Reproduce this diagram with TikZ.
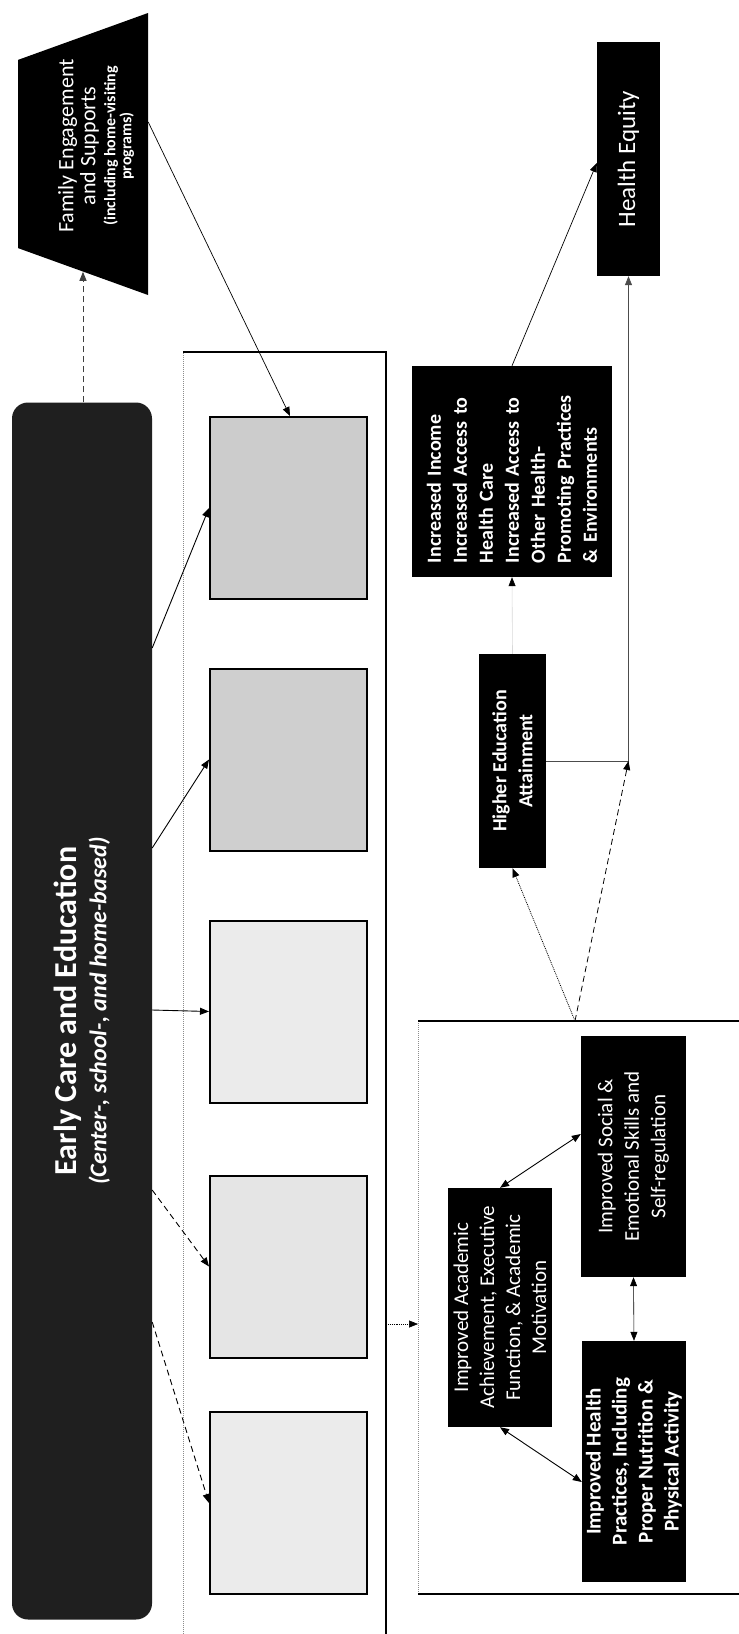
\documentclass[tikz,border=0pt]{standalone}
\usepackage{fontspec}
\setmainfont{Carlito}
\usepackage{tikz}
\usetikzlibrary{arrows.meta, shapes.geometric}

\begin{document}
\begin{tikzpicture}[
    x=1pt, y=-1pt,
    darkbox/.style={fill=black, text=white, rotate=90, inner sep=0pt, align=center},
    greybox/.style={draw, line width=2pt, minimum width=157pt, minimum height=182pt},
    frameline/.style={line width=1.2pt},
    framedots/.style={black!45, densely dotted, line width=1pt},
    arrow/.style={-{Triangle[length=9pt, width=7pt]}, line width=0.9pt},
    dasharrow/.style={arrow, dash pattern=on 6pt off 4pt},
    twoway/.style={{Triangle[length=9pt, width=7pt]}-{Triangle[length=9pt, width=7pt]}, line width=0.9pt}
]
\fill[white] (0,0) rectangle (739,1634);
\useasboundingbox (0,0) rectangle (739,1634);

% frames
\draw[framedots] (183,1634) -- (183,352);
\draw[frameline] (183,352) -- (386,352) -- (386,1634);
\draw[framedots] (418,1021) -- (418,1594);
\draw[frameline] (418,1021) -- (739,1021);
\draw[frameline] (418,1594) -- (739,1594);
\coordinate (upframe) at (386,1324);
\coordinate (lowframe) at (418,1324);
\coordinate (apex) at (575,1021);

% left column
\node[darkbox, fill=black!88, rounded corners=16pt, minimum width=1217pt, minimum height=140pt,
      font=\fontsize{32}{30}\selectfont\bfseries] (ece) at (82,1011)
      {Early Care and Education\\{\fontsize{24}{28}\selectfont\itshape (Center-, school-, and home-based)}};
\node[trapezium, trapezium angle=76, trapezium stretches=true, rotate=90, fill=black, inner sep=2pt,
      minimum width=282pt, minimum height=130pt] (family) at (83,154) {};
\node[rotate=90, text=white, align=center, inner sep=0pt, font=\fontsize{22}{22}\selectfont] (famtxt) at (96,146)
      {Family Engagement\\and Supports\\[-2pt]{\fontsize{16}{16}\selectfont\bfseries (including home-visiting}\\[-6pt]{\fontsize{16}{16}\selectfont\bfseries programs)}};

% middle column
\node[greybox, fill=black!20] (box1) at (288.5,508) {};
\node[greybox, fill=black!19] (box2) at (288.5,759.5) {};
\node[greybox, fill=black!8] (box3) at (288.5,1011.5) {};
\node[greybox, fill=black!10] (box4) at (288.5,1266.5) {};
\node[greybox, fill=black!8] (box5) at (288.5,1503) {};

% right column
\node[darkbox, minimum width=234pt, minimum height=63pt, font=\fontsize{25}{30}\selectfont] (he) at (628.5,159) {Health Equity};
\node[darkbox, align=left, text width=183pt, minimum width=211pt, minimum height=200pt,
      font=\fontsize{20}{26}\selectfont\bfseries] (inc) at (512,471.5)
      {Increased Income\\Increased Access to\\Health Care\\Increased Access to\\Other Health-\\Promoting Practices\\\& Environments};
\node[darkbox, minimum width=214pt, minimum height=67pt, font=\fontsize{20}{26}\selectfont\bfseries] (hea) at (512.5,761)
      {Higher Education\\Attainment};
\node[darkbox, minimum width=239pt, minimum height=104pt, font=\fontsize{21}{26}\selectfont] (acad) at (500,1307.5)
      {Improved Academic\\Achievement, Executive\\Function, \& Academic\\Motivation};
\node[darkbox, minimum width=241pt, minimum height=105pt, font=\fontsize{21}{26.5}\selectfont] (soc) at (633.5,1156.5)
      {Improved Social \&\\Emotional Skills and\\Self-regulation};
\node[darkbox, minimum width=241pt, minimum height=104pt, font=\fontsize{21}{26}\selectfont\bfseries] (hlth) at (634,1461.5)
      {Improved Health\\Practices, Including\\Proper Nutrition \&\\Physical Activity};
\coordinate (bend) at (hea.south -| he.west);

% connectors
\draw[dasharrow, black!75] (ece.east -| family.left side) -- (family.left side);
\draw[arrow, line width=0.7pt] (family.bottom side |- 0,122) -- (box1.north -| 290,0);
\draw[arrow] (ece.south |- 0,648) -- (box1.west);
\draw[arrow] (ece.south |- 0,848) -- (box2.west);
\draw[arrow] (ece.south |- 0,1010) -- (box3.west);
\draw[dasharrow] (ece.south |- 0,1190) -- (box4.west);
\draw[dasharrow] (ece.south |- 0,1322) -- (box5.west);
\draw[arrow, densely dotted, line width=0.6pt] (upframe) -- (lowframe);
\draw[arrow, line width=0.7pt] (inc.east) -- (he.north |- 0,163);
\draw[-{Triangle[length=9pt, width=7pt, color=black]}, black!15, line width=0.6pt] (hea.east) -- (inc.west);
\draw[arrow, black!70, line width=0.7pt] (hea.south) -| (he.west);
\draw[arrow, densely dotted, line width=0.8pt] (apex) -- (hea.west);
\draw[dasharrow, line width=0.8pt] (apex) -- (bend);
\draw[twoway] (acad.east) -- (soc.north |- 0,1134);
\draw[twoway] (acad.west) -- (hlth.north |- 0,1482);
\draw[twoway, line width=0.6pt] (soc.west) -- (hlth.east);
\end{tikzpicture}
\end{document}
